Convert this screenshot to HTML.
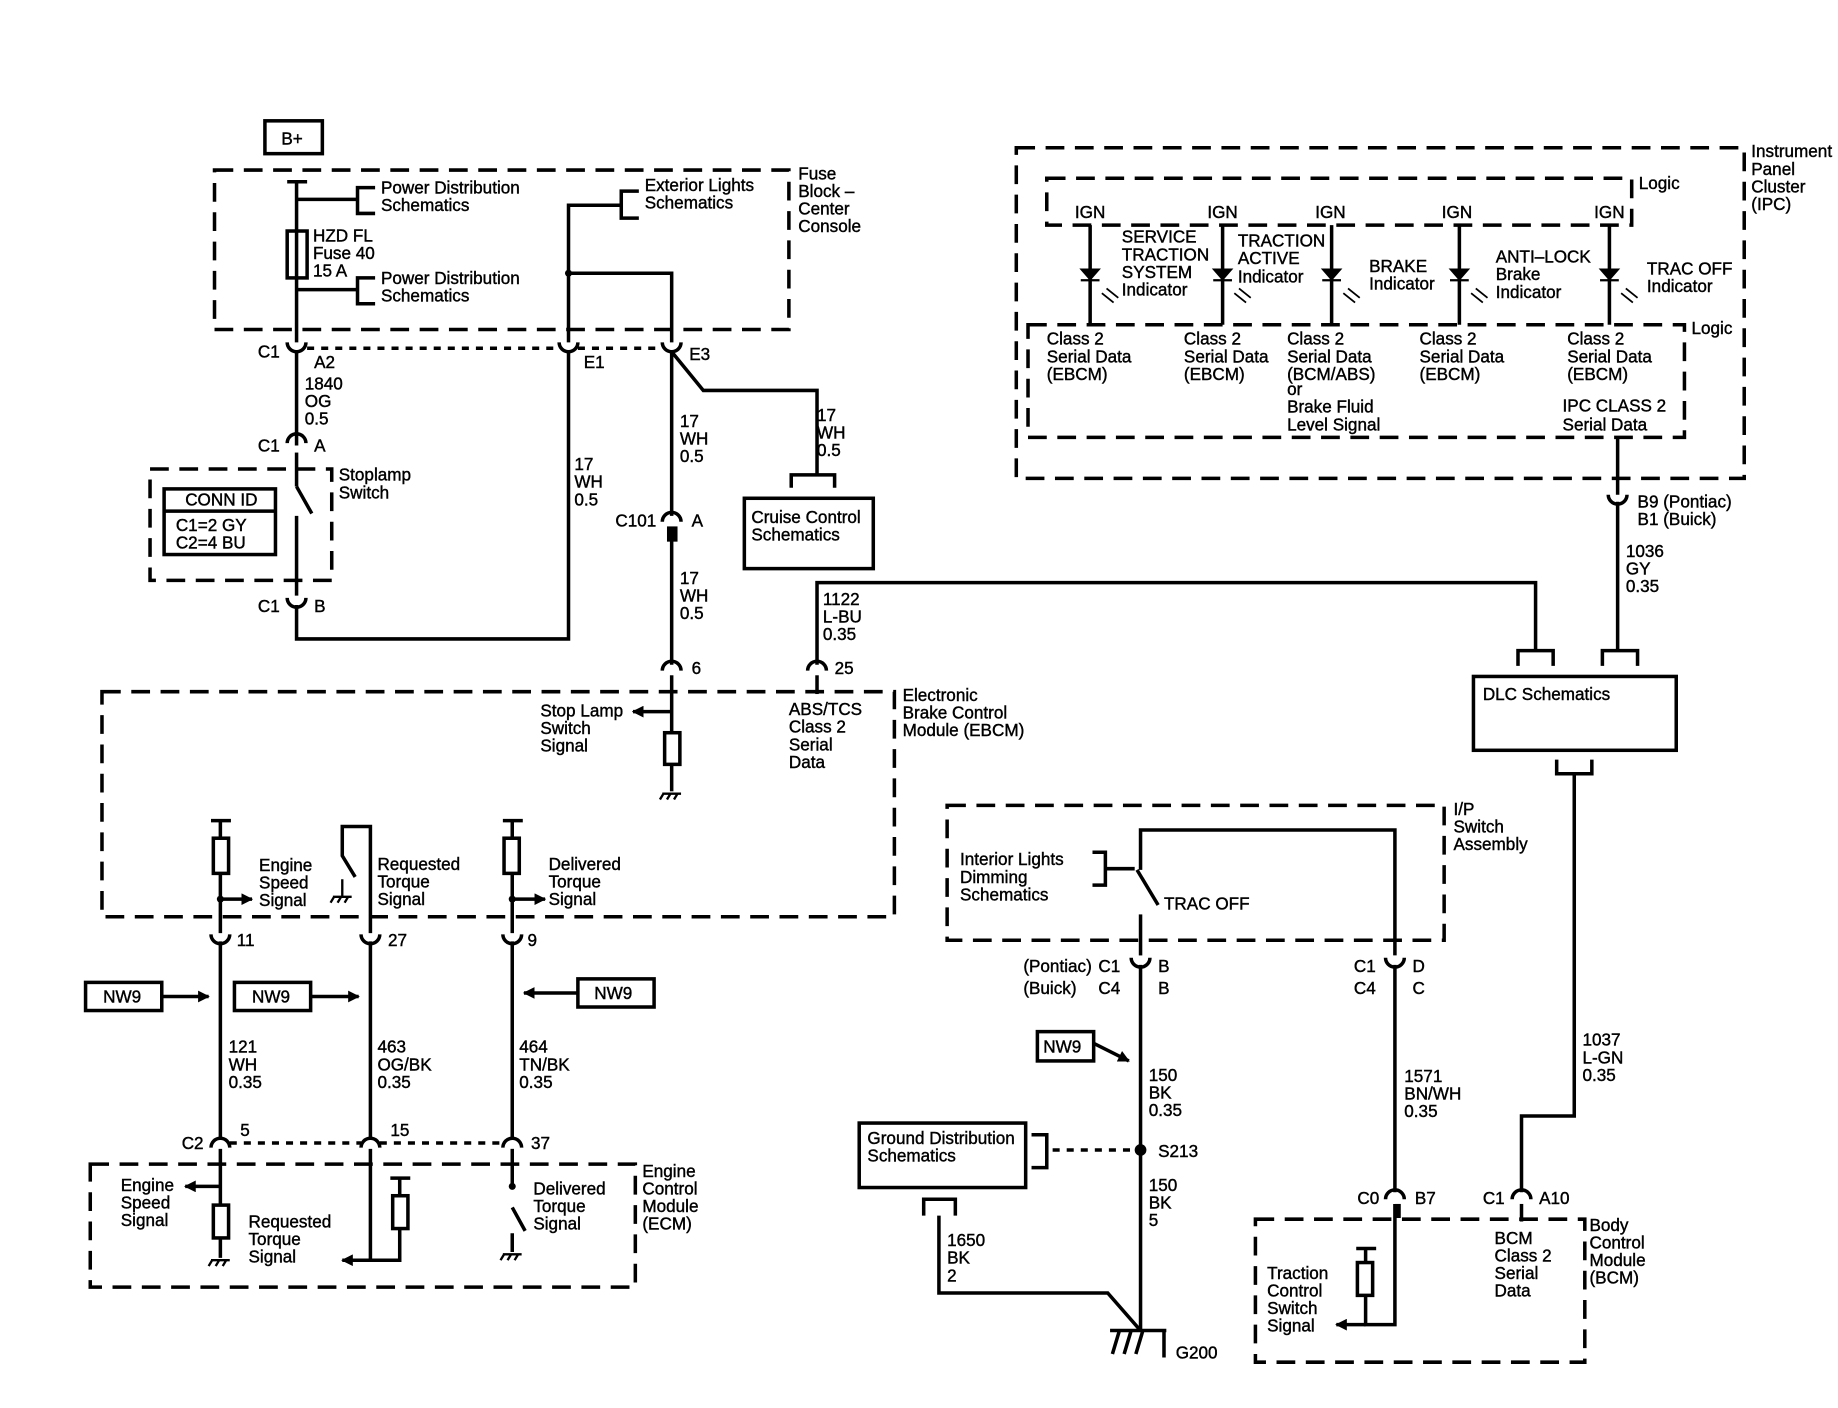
<!DOCTYPE html>
<html><head><meta charset="utf-8"><style>
html,body{margin:0;padding:0;background:#fff;}
svg{display:block;}
text{font-family:"Liberation Sans",Arial,sans-serif;font-size:14.6px;fill:#000;stroke:#000;stroke-width:0.35;}
.w{stroke:#000;stroke-width:3;fill:none;}
.t{stroke:#000;stroke-width:2;fill:none;}
.d{stroke:#000;stroke-width:3;fill:none;stroke-dasharray:16,9;}
.dd{stroke:#000;stroke-width:3;fill:none;stroke-dasharray:6,6;}
</style></head><body>
<svg width="1838" height="1408" viewBox="0 0 1568 1201" xmlns="http://www.w3.org/2000/svg">
<defs>
<marker id="ar" markerWidth="10" markerHeight="10" refX="9" refY="5" orient="auto" markerUnits="userSpaceOnUse"><path d="M0,0 L10,5 L0,10 z" fill="#000"/></marker>
</defs>

<!-- B+ -->
<rect x="226" y="103" width="49" height="28" class="w"/>
<text x="240" y="123">B+</text>

<!-- Fuse block -->
<rect x="183" y="145" width="490" height="136" class="d"/>
<text x="681" y="153">Fuse</text><text x="681" y="168">Block –</text><text x="681" y="183">Center</text><text x="681" y="198">Console</text>
<line x1="245" y1="155" x2="262" y2="155" class="w"/>
<line x1="253" y1="155" x2="253" y2="292" class="w"/>
<rect x="245" y="197" width="17" height="40" class="w" fill="#fff"/>
<path d="M253,170 H305 M320,160 H305 V182 H320" class="w"/>
<path d="M253,247 H305 M320,237 H305 V259 H320" class="w"/>
<text x="325" y="165">Power Distribution</text><text x="325" y="180">Schematics</text>
<text x="325" y="242">Power Distribution</text><text x="325" y="257">Schematics</text>
<text x="267" y="206">HZD FL</text><text x="267" y="221">Fuse 40</text><text x="267" y="236">15 A</text>
<path d="M485,292 V175 H530 M545,163 H530 V186 H545" class="w"/>
<text x="550" y="163">Exterior Lights</text><text x="550" y="178">Schematics</text>
<circle cx="485" cy="233" r="3"/>
<path d="M485,233 H573 V292" class="w"/>

<!-- connectors row 297 -->
<path d="M245,292 A8,8 0 0 0 261,292 M477,292 A8,8 0 0 0 493,292 M565,292 A8,8 0 0 0 581,292" class="w"/>
<line x1="262" y1="297" x2="477" y2="297" class="dd"/>
<line x1="493" y1="297" x2="565" y2="297" class="dd"/>
<text x="220" y="305">C1</text><text x="268" y="314">A2</text><text x="498" y="314">E1</text><text x="588" y="307">E3</text>
<line x1="253" y1="300" x2="253" y2="380" class="w"/>
<text x="260" y="332">1840</text><text x="260" y="347">OG</text><text x="260" y="362">0.5</text>
<path d="M245,378 A8,8 0 0 1 261,378" class="w"/>
<text x="220" y="385">C1</text><text x="268" y="385">A</text>

<!-- stoplamp -->
<rect x="128" y="400" width="155" height="95" class="d"/>
<rect x="140" y="417" width="95" height="56" class="w"/>
<line x1="140" y1="436" x2="235" y2="436" class="w"/>
<text x="158" y="431">CONN ID</text><text x="150" y="453">C1=2 GY</text><text x="150" y="468">C2=4 BU</text>
<line x1="253" y1="386" x2="253" y2="415" class="w"/>
<line x1="253" y1="415" x2="266" y2="438" class="w"/>
<line x1="253" y1="440" x2="253" y2="508" class="w"/>
<text x="289" y="410">Stoplamp</text><text x="289" y="425">Switch</text>
<path d="M245,510 A8,8 0 0 0 261,510" class="w"/>
<text x="220" y="522">C1</text><text x="268" y="522">B</text>
<path d="M253,516 V545 H485 V300" class="w"/>
<text x="490" y="401">17</text><text x="490" y="416">WH</text><text x="490" y="431">0.5</text>

<!-- E3 path -->
<path d="M573,300 L600,333 H697 V405" class="w"/>
<path d="M675,416 V405 H712 V416" class="w"/>
<rect x="635" y="425" width="110" height="60" class="w"/>
<text x="641" y="446">Cruise Control</text><text x="641" y="461">Schematics</text>
<text x="697" y="359">17</text><text x="697" y="374">WH</text><text x="697" y="389">0.5</text>
<line x1="573" y1="300" x2="573" y2="440" class="w"/>
<text x="580" y="364">17</text><text x="580" y="379">WH</text><text x="580" y="394">0.5</text>
<path d="M565,445 A8,8 0 0 1 581,445" class="w"/>
<rect x="569" y="449" width="9" height="13" fill="#000"/>
<text x="525" y="449">C101</text><text x="590" y="449">A</text>
<line x1="573" y1="460" x2="573" y2="567" class="w"/>
<text x="580" y="498">17</text><text x="580" y="513">WH</text><text x="580" y="528">0.5</text>
<path d="M565,572 A8,8 0 0 1 581,572" class="w"/>
<text x="590" y="575">6</text>
<path d="M689,572 A8,8 0 0 1 705,572" class="w"/>
<text x="712" y="575">25</text>
<path d="M697,567 V497 H1310 V555" class="w"/>
<text x="702" y="516">1122</text><text x="702" y="531">L-BU</text><text x="702" y="546">0.35</text>

<!-- EBCM -->
<rect x="87" y="590" width="676" height="192" class="d"/>
<text x="770" y="598">Electronic</text><text x="770" y="613">Brake Control</text><text x="770" y="628">Module (EBCM)</text>
<line x1="573" y1="576" x2="573" y2="625" class="w"/>
<rect x="567" y="625" width="13" height="27" class="w" fill="#fff"/>
<line x1="573" y1="652" x2="573" y2="675" class="w"/>
<path d="M565,677 H581 M566,677 l-3,5 M572,677 l-3,5 M578,677 l-3,5" class="t"/>
<line x1="573" y1="607" x2="540" y2="607" class="w" marker-end="url(#ar)"/>
<text x="461" y="611">Stop Lamp</text><text x="461" y="626">Switch</text><text x="461" y="641">Signal</text>
<line x1="697" y1="576" x2="697" y2="592" class="w"/>
<text x="673" y="610">ABS/TCS</text><text x="673" y="625">Class 2</text><text x="673" y="640">Serial</text><text x="673" y="655">Data</text>

<path d="M180,700 H197 M188,700 V715 M188,745 V796" class="w"/>
<rect x="182" y="715" width="13" height="30" class="w" fill="#fff"/>
<circle cx="188" cy="767" r="3"/>
<line x1="188" y1="767" x2="215" y2="767" class="w" marker-end="url(#ar)"/>
<text x="221" y="743">Engine</text><text x="221" y="758">Speed</text><text x="221" y="773">Signal</text>
<path d="M316,796 V705 H292 V730 L303,748" class="w"/>
<path d="M284,765 H300 M285,765 l-3,5 M291,765 l-3,5 M297,765 l-3,5" class="t"/>
<line x1="292" y1="750" x2="292" y2="765" class="t"/>
<text x="322" y="742">Requested</text><text x="322" y="757">Torque</text><text x="322" y="772">Signal</text>
<path d="M429,700 H446 M437,700 V715 M437,745 V796" class="w"/>
<rect x="430" y="715" width="13" height="30" class="w" fill="#fff"/>
<circle cx="437" cy="767" r="3"/>
<line x1="437" y1="767" x2="465" y2="767" class="w" marker-end="url(#ar)"/>
<text x="468" y="742">Delivered</text><text x="468" y="757">Torque</text><text x="468" y="772">Signal</text>

<path d="M180,797 A8,8 0 0 0 196,797 M308,797 A8,8 0 0 0 324,797 M429,797 A8,8 0 0 0 445,797" class="w"/>
<text x="202" y="807">11</text><text x="331" y="807">27</text><text x="450" y="807">9</text>
<path d="M188,803 V970 M316,803 V970 M437,803 V970" class="w"/>
<rect x="73" y="838" width="65" height="24" class="w"/><text x="88" y="855">NW9</text>
<line x1="138" y1="850" x2="178" y2="850" class="w" marker-end="url(#ar)"/>
<rect x="200" y="838" width="65" height="24" class="w"/><text x="215" y="855">NW9</text>
<line x1="265" y1="850" x2="306" y2="850" class="w" marker-end="url(#ar)"/>
<rect x="493" y="835" width="65" height="24" class="w"/><text x="507" y="852">NW9</text>
<line x1="493" y1="847" x2="447" y2="847" class="w" marker-end="url(#ar)"/>
<text x="195" y="898">121</text><text x="195" y="913">WH</text><text x="195" y="928">0.35</text>
<text x="322" y="898">463</text><text x="322" y="913">OG/BK</text><text x="322" y="928">0.35</text>
<text x="443" y="898">464</text><text x="443" y="913">TN/BK</text><text x="443" y="928">0.35</text>
<path d="M180,979 A8,8 0 0 1 196,979 M308,979 A8,8 0 0 1 324,979 M429,979 A8,8 0 0 1 445,979" class="w"/>
<line x1="196" y1="975" x2="308" y2="975" class="dd"/>
<line x1="324" y1="975" x2="429" y2="975" class="dd"/>
<text x="155" y="980">C2</text><text x="205" y="969">5</text><text x="333" y="969">15</text><text x="453" y="980">37</text>

<!-- ECM -->
<rect x="77" y="993" width="465" height="105" class="d"/>
<text x="548" y="1004">Engine</text><text x="548" y="1019">Control</text><text x="548" y="1034">Module</text><text x="548" y="1049">(ECM)</text>
<path d="M188,980 V1028 M188,1056 V1073" class="w"/>
<rect x="182" y="1028" width="13" height="28" class="w" fill="#fff"/>
<path d="M180,1075 H196 M181,1075 l-3,5 M187,1075 l-3,5 M193,1075 l-3,5" class="t"/>
<line x1="188" y1="1012" x2="158" y2="1012" class="w" marker-end="url(#ar)"/>
<text x="103" y="1016">Engine</text><text x="103" y="1031">Speed</text><text x="103" y="1046">Signal</text>
<text x="212" y="1047">Requested</text><text x="212" y="1062">Torque</text><text x="212" y="1077">Signal</text>
<path d="M316,980 V1075 H341 V1048 M341,1020 V1005 M333,1005 H350" class="w"/>
<rect x="335" y="1020" width="13" height="28" class="w" fill="#fff"/>
<line x1="316" y1="1075" x2="292" y2="1075" class="w" marker-end="url(#ar)"/>
<path d="M437,980 V1012" class="w"/><circle cx="437" cy="1012" r="3"/>
<path d="M437,1030 L448,1050 M437,1052 V1068" class="w"/>
<path d="M429,1070 H445 M430,1070 l-3,5 M436,1070 l-3,5 M442,1070 l-3,5" class="t"/>
<text x="455" y="1019">Delivered</text><text x="455" y="1034">Torque</text><text x="455" y="1049">Signal</text>

<!-- IPC -->
<rect x="867" y="126" width="621" height="282" class="d"/>
<text x="1494" y="134">Instrument</text><text x="1494" y="149">Panel</text><text x="1494" y="164">Cluster</text><text x="1494" y="179">(IPC)</text>
<rect x="893" y="152" width="499" height="40" class="d"/>
<text x="1398" y="161">Logic</text>
<rect x="877" y="277" width="560" height="96" class="d"/>
<text x="1443" y="285">Logic</text>
<text x="917" y="186">IGN</text><text x="1030" y="186">IGN</text><text x="1122" y="186">IGN</text><text x="1230" y="186">IGN</text><text x="1360" y="186">IGN</text>
<g class="w">
<line x1="930" y1="192" x2="930" y2="277"/><line x1="1043" y1="192" x2="1043" y2="277"/><line x1="1136" y1="192" x2="1136" y2="277"/><line x1="1245" y1="192" x2="1245" y2="277"/><line x1="1373" y1="192" x2="1373" y2="277"/>
</g>
<g fill="#000" stroke="#000" stroke-width="2">
<path d="M923,230 H937 L930,238 Z M922,239 H938"/>
<path d="M1036,230 H1050 L1043,238 Z M1035,239 H1051"/>
<path d="M1129,230 H1143 L1136,238 Z M1128,239 H1144"/>
<path d="M1238,230 H1252 L1245,238 Z M1237,239 H1253"/>
<path d="M1366,230 H1380 L1373,238 Z M1365,239 H1381"/>
<path d="M940,250 l10,8 M944,246 l10,8 M1053,250 l10,8 M1057,246 l10,8 M1146,250 l10,8 M1150,246 l10,8 M1255,250 l10,8 M1259,246 l10,8 M1383,250 l10,8 M1387,246 l10,8" stroke-width="1.5"/>
</g>
<text x="957" y="207">SERVICE</text><text x="957" y="222">TRACTION</text><text x="957" y="237">SYSTEM</text><text x="957" y="252">Indicator</text>
<text x="1056" y="210">TRACTION</text><text x="1056" y="225">ACTIVE</text><text x="1056" y="241">Indicator</text>
<text x="1168" y="232">BRAKE</text><text x="1168" y="247">Indicator</text>
<text x="1276" y="224">ANTI–LOCK</text><text x="1276" y="239">Brake</text><text x="1276" y="254">Indicator</text>
<text x="1405" y="234">TRAC OFF</text><text x="1405" y="249">Indicator</text>
<text x="893" y="294">Class 2</text><text x="893" y="309">Serial Data</text><text x="893" y="324">(EBCM)</text>
<text x="1010" y="294">Class 2</text><text x="1010" y="309">Serial Data</text><text x="1010" y="324">(EBCM)</text>
<text x="1098" y="294">Class 2</text><text x="1098" y="309">Serial Data</text><text x="1098" y="324">(BCM/ABS)</text><text x="1098" y="337">or</text><text x="1098" y="352">Brake Fluid</text><text x="1098" y="367">Level Signal</text>
<text x="1211" y="294">Class 2</text><text x="1211" y="309">Serial Data</text><text x="1211" y="324">(EBCM)</text>
<text x="1337" y="294">Class 2</text><text x="1337" y="309">Serial Data</text><text x="1337" y="324">(EBCM)</text>
<text x="1333" y="351">IPC CLASS 2</text><text x="1333" y="367">Serial Data</text>
<line x1="1380" y1="373" x2="1380" y2="422" class="w"/>
<path d="M1372,422 A8,8 0 0 0 1388,422" class="w"/>
<text x="1397" y="433">B9 (Pontiac)</text><text x="1397" y="448">B1 (Buick)</text>
<line x1="1380" y1="428" x2="1380" y2="555" class="w"/>
<text x="1387" y="475">1036</text><text x="1387" y="490">GY</text><text x="1387" y="505">0.35</text>
<path d="M1295,568 V555 H1325 V568 M1367,568 V555 H1397 V568" class="w"/>
<rect x="1257" y="577" width="173" height="63" class="w"/>
<text x="1265" y="597">DLC Schematics</text>
<path d="M1328,648 V660 H1358 V648" class="w"/>
<path d="M1343,660 V952 H1298 V1017" class="w"/>
<text x="1350" y="892">1037</text><text x="1350" y="907">L-GN</text><text x="1350" y="922">0.35</text>

<!-- IP switch -->
<rect x="808" y="687" width="424" height="115" class="d"/>
<text x="1240" y="695">I/P</text><text x="1240" y="710">Switch</text><text x="1240" y="725">Assembly</text>
<text x="819" y="738">Interior Lights</text><text x="819" y="753">Dimming</text><text x="819" y="768">Schematics</text>
<path d="M932,727 H943 V755 H932 M943,741 H968" class="w"/>
<path d="M973,742 V708 H1190 V815" class="w"/>
<line x1="970" y1="742" x2="988" y2="772" class="w"/>
<line x1="973" y1="780" x2="973" y2="815" class="w"/>
<text x="993" y="776">TRAC OFF</text>
<path d="M965,817 A8,8 0 0 0 981,817 M1182,817 A8,8 0 0 0 1198,817" class="w"/>
<text x="873" y="829">(Pontiac)</text><text x="937" y="829">C1</text><text x="988" y="829">B</text>
<text x="873" y="848">(Buick)</text><text x="937" y="848">C4</text><text x="988" y="848">B</text>
<text x="1155" y="829">C1</text><text x="1205" y="829">D</text><text x="1155" y="848">C4</text><text x="1205" y="848">C</text>
<line x1="973" y1="823" x2="973" y2="1135" class="w"/>
<rect x="885" y="880" width="48" height="25" class="w"/><text x="890" y="898">NW9</text>
<line x1="933" y1="890" x2="963" y2="905" class="w" marker-end="url(#ar)"/>
<text x="980" y="922">150</text><text x="980" y="937">BK</text><text x="980" y="952">0.35</text>
<circle cx="973" cy="981" r="5"/>
<text x="988" y="987">S213</text>
<line x1="898" y1="981" x2="968" y2="981" class="dd"/>
<path d="M880,968 H893 V996 H880" class="w"/>
<rect x="733" y="958" width="142" height="55" class="w"/>
<text x="740" y="976">Ground Distribution</text><text x="740" y="991">Schematics</text>
<text x="980" y="1016">150</text><text x="980" y="1031">BK</text><text x="980" y="1046">5</text>
<path d="M788,1037 V1023 H815 V1037 M801,1037 V1103 H945 L973,1135" class="w"/>
<text x="808" y="1063">1650</text><text x="808" y="1078">BK</text><text x="808" y="1093">2</text>
<path d="M947,1135 H995 M955,1135 l-6,20 M965,1135 l-6,20 M975,1135 l-6,20 M993,1135 V1158" class="w"/>
<text x="1003" y="1159">G200</text>

<line x1="1190" y1="823" x2="1190" y2="1017" class="w"/>
<text x="1198" y="923">1571</text><text x="1198" y="938">BN/WH</text><text x="1198" y="953">0.35</text>
<path d="M1182,1023 A8,8 0 0 1 1198,1023 M1290,1023 A8,8 0 0 1 1306,1023" class="w"/>
<text x="1158" y="1027">C0</text><text x="1207" y="1027">B7</text><text x="1265" y="1027">C1</text><text x="1313" y="1027">A10</text>
<rect x="1190" y="1027" width="5" height="12" fill="#000"/>

<!-- BCM -->
<rect x="1071" y="1040" width="281" height="122" class="d"/>
<text x="1356" y="1050">Body</text><text x="1356" y="1065">Control</text><text x="1356" y="1080">Module</text><text x="1356" y="1095">(BCM)</text>
<text x="1275" y="1061">BCM</text><text x="1275" y="1076">Class 2</text><text x="1275" y="1091">Serial</text><text x="1275" y="1106">Data</text>
<path d="M1190,1027 V1130 H1165 V1105 M1165,1077 V1065 M1157,1065 H1174" class="w"/>
<rect x="1158" y="1077" width="13" height="28" class="w" fill="#fff"/>
<line x1="1165" y1="1130" x2="1140" y2="1130" class="w" marker-end="url(#ar)"/>
<line x1="1298" y1="1027" x2="1298" y2="1042" class="w"/>
<text x="1081" y="1091">Traction</text><text x="1081" y="1106">Control</text><text x="1081" y="1121">Switch</text><text x="1081" y="1136">Signal</text>
</svg>
</body></html>
